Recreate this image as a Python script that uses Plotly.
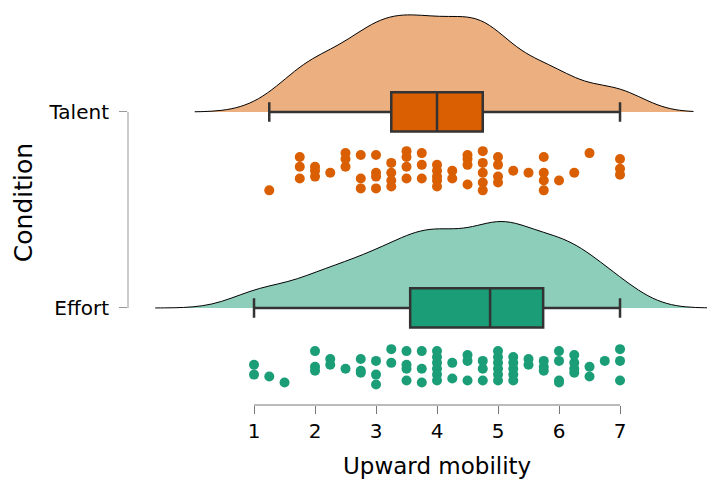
import plotly.graph_objects as go

# ---------------- data ----------------
categories = ["Effort", "Talent"]
cat_pos = [1, 2]

talent_values = [1.25,
                 1.75, 1.75, 1.75,
                 2.0, 2.0, 2.0,
                 2.25,
                 2.5, 2.5, 2.5,
                 2.75, 2.75, 2.75,
                 3.0, 3.0, 3.0, 3.0,
                 3.25, 3.25, 3.25, 3.25,
                 3.5, 3.5, 3.5, 3.5,
                 3.75, 3.75, 3.75,
                 4.0, 4.0, 4.0, 4.0, 4.0,
                 4.25, 4.25,
                 4.5, 4.5, 4.5, 4.5,
                 4.75, 4.75, 4.75, 4.75, 4.75,
                 5.0, 5.0, 5.0, 5.0,
                 5.25, 5.5,
                 5.75, 5.75, 5.75, 5.75,
                 6.0, 6.25, 6.5,
                 7.0, 7.0, 7.0]
talent_depth = [0.40,
                0.23, 0.28, 0.34,
                0.28, 0.30, 0.33,
                0.31,
                0.21, 0.24, 0.28,
                0.22, 0.34, 0.39,
                0.22, 0.31, 0.33, 0.39,
                0.26, 0.31, 0.35, 0.38,
                0.20, 0.23, 0.28, 0.34,
                0.21, 0.27, 0.34,
                0.27, 0.30, 0.33, 0.35, 0.38,
                0.30, 0.34,
                0.22, 0.24, 0.27, 0.37,
                0.20, 0.26, 0.31, 0.36, 0.40,
                0.23, 0.27, 0.33, 0.36,
                0.30, 0.31,
                0.23, 0.31, 0.35, 0.40,
                0.35, 0.31, 0.21,
                0.24, 0.29, 0.32]

effort_values = [1.0, 1.0, 1.25, 1.5,
                 2.0, 2.0, 2.0, 2.25, 2.25, 2.5,
                 2.75, 2.75, 2.75, 3.0, 3.0, 3.0, 3.25, 3.25,
                 3.5, 3.5, 3.5, 3.5, 3.75, 3.75, 3.75,
                 4.0, 4.0, 4.0, 4.0, 4.0, 4.0,
                 4.25, 4.25,
                 4.5, 4.5, 4.5,
                 4.75, 4.75, 4.75,
                 5.0, 5.0, 5.0, 5.0, 5.0, 5.0,
                 5.25, 5.25, 5.25, 5.25, 5.25,
                 5.5, 5.5,
                 5.75, 5.75, 5.75,
                 6.0, 6.0, 6.0, 6.0,
                 6.25, 6.25, 6.25, 6.25,
                 6.5, 6.5,
                 6.75,
                 7.0, 7.0, 7.0]
effort_depth = [0.29, 0.34, 0.35, 0.38,
                0.22, 0.30, 0.32, 0.26, 0.29, 0.31,
                0.26, 0.32, 0.33, 0.27, 0.34, 0.39, 0.21, 0.28,
                0.22, 0.29, 0.31, 0.37, 0.22, 0.31, 0.38,
                0.22, 0.25, 0.28, 0.31, 0.34, 0.37,
                0.28, 0.36,
                0.24, 0.27, 0.37,
                0.27, 0.31, 0.37,
                0.22, 0.25, 0.28, 0.31, 0.34, 0.37,
                0.25, 0.28, 0.31, 0.34, 0.37,
                0.26, 0.29,
                0.27, 0.30, 0.32,
                0.22, 0.27, 0.37, 0.38,
                0.24, 0.28, 0.31, 0.33,
                0.30, 0.35,
                0.27,
                0.21, 0.27, 0.37]

# box summaries: [Effort, Talent]
box_q1 = [3.56, 3.25]
box_median = [4.87, 4.0]
box_q3 = [5.74, 4.75]
box_low = [1.0, 1.25]
box_high = [7.0, 7.0]

# density settings: [Effort, Talent]
density_span = [[-0.62, 8.7], [0.03, 8.2]]
density_bw = [0.47, 0.45]
density_height = [0.88, 0.99]

x_ticks = [1, 2, 3, 4, 5, 6, 7]
x_title = "Upward mobility"
y_title = "Condition"

# ---------------- styling ----------------
dark = ["#1B9E77", "#D95F02"]
light = ["rgba(27,158,119,0.5)", "rgba(217,95,2,0.5)"]
FONT = "DejaVu Sans"

values = [effort_values, talent_values]
depths = [effort_depth, talent_depth]

fig = go.Figure()

for i in range(2):
    fig.add_trace(go.Violin(
        x=values[i], y0=cat_pos[i], orientation="h", side="positive",
        fillcolor=light[i], line=dict(color="black", width=1),
        points=False, box_visible=False, meanline_visible=False,
        spanmode="manual", span=density_span[i], bandwidth=density_bw[i],
        width=density_height[i], scalemode="width",
        hoverinfo="skip", opacity=1))

for i in range(2):
    fig.add_trace(go.Box(
        y=[cat_pos[i]], q1=[box_q1[i]], median=[box_median[i]],
        q3=[box_q3[i]], lowerfence=[box_low[i]], upperfence=[box_high[i]],
        orientation="h", width=0.2, whiskerwidth=0.5,
        fillcolor=dark[i], line=dict(color="#333333", width=2.5),
        boxpoints=False, hoverinfo="skip"))

for i in range(2):
    fig.add_trace(go.Scatter(
        x=values[i], y=[cat_pos[i] - d for d in depths[i]],
        mode="markers", marker=dict(size=10, color=dark[i]),
        hoverinfo="skip"))

# axis lines limited to the data range (offset style)
fig.add_shape(type="line", xref="x", yref="paper", x0=x_ticks[0], x1=x_ticks[-1],
              y0=0, y1=0, line=dict(color="#777777", width=1))
fig.add_shape(type="line", xref="paper", yref="y", x0=0, x1=0,
              y0=cat_pos[0], y1=cat_pos[-1], line=dict(color="#999999", width=1))

# x-axis title centred on the tick range
fig.add_annotation(text=x_title, xref="x", yref="paper",
                   x=(x_ticks[0] + x_ticks[-1]) / 2, y=-0.150,
                   xanchor="center", yanchor="middle", showarrow=False,
                   font=dict(size=23, family=FONT, color="black"))

fig.update_layout(
    width=707, height=483,
    margin=dict(l=128, r=0, t=0, b=78),
    plot_bgcolor="white", paper_bgcolor="white",
    showlegend=False,
    font=dict(family=FONT, color="black"),
    xaxis=dict(range=[-1.066, 8.426], tickvals=x_ticks,
               ticks="outside", ticklen=8, tickcolor="#777777",
               showline=False, showgrid=False, zeroline=False,
               tickfont=dict(size=20)),
    yaxis=dict(range=[0.505, 2.571], tickvals=cat_pos, ticktext=categories,
               ticks="outside", ticklen=8, tickcolor="#999999",
               showline=False, showgrid=False, zeroline=False,
               ticklabelstandoff=6,
               tickfont=dict(size=20),
               title=dict(text=y_title, font=dict(size=25), standoff=8)),
)

fig.write_html("out.html")
